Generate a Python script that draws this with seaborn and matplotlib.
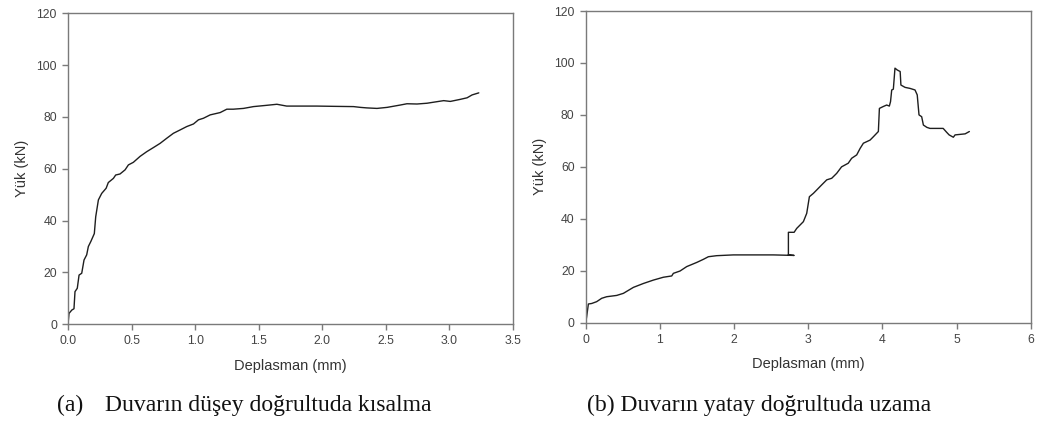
import matplotlib
matplotlib.use("Agg")
import matplotlib.pyplot as plt
import seaborn as sns
import pandas as pd

# ---- data: panel (a) vertical shortening ----
disp_a = [0.0, 0.008, 0.03, 0.047, 0.055, 0.073, 0.087, 0.108, 0.126, 0.147, 0.16, 0.18,
          0.207, 0.218, 0.239, 0.265, 0.3, 0.317, 0.357, 0.375, 0.409, 0.449, 0.475, 0.514,
          0.567, 0.619, 0.672, 0.724, 0.777, 0.829, 0.882, 0.934, 0.987, 1.026, 1.065, 1.118,
          1.197, 1.249, 1.30, 1.38, 1.459, 1.564, 1.643, 1.72, 1.826, 1.957, 2.09, 2.246,
          2.3, 2.35, 2.43, 2.51, 2.613, 2.666, 2.745, 2.824, 2.876, 2.955, 3.007, 3.086,
          3.139, 3.178, 3.231]
load_a = [0.0, 4.2, 5.5, 6.0, 12.6, 13.9, 19.0, 19.7, 24.8, 26.8, 30.0, 32.0,
          35.0, 41.5, 48.0, 50.5, 52.5, 54.7, 56.3, 57.6, 58.0, 59.6, 61.5, 62.5,
          64.8, 66.6, 68.2, 69.8, 71.8, 73.7, 75.0, 76.3, 77.3, 78.9, 79.5, 80.8,
          81.7, 83.0, 83.0, 83.3, 84.0, 84.5, 84.9, 84.2, 84.2, 84.2, 84.1, 84.0,
          83.7, 83.5, 83.3, 83.7, 84.6, 85.1, 85.0, 85.3, 85.7, 86.3, 86.0, 86.8,
          87.4, 88.5, 89.3]

# ---- data: panel (b) horizontal elongation ----
disp_b = [0.0, 0.013, 0.036, 0.081, 0.148, 0.216, 0.283, 0.418, 0.508, 0.643, 0.778, 0.912,
          1.047, 1.16, 1.182, 1.272, 1.362, 1.497, 1.587, 1.654, 1.766, 1.99, 2.26, 2.53,
          2.81, 2.733, 2.733, 2.81, 2.845, 2.89, 2.935, 2.98, 3.016, 3.07, 3.115, 3.18,
          3.25, 3.317, 3.384, 3.45, 3.54, 3.586, 3.654, 3.7, 3.744, 3.834, 3.879, 3.946,
          3.96, 4.01, 4.058, 4.094, 4.11, 4.126, 4.148, 4.17, 4.2, 4.24, 4.25, 4.306,
          4.373, 4.44, 4.47, 4.494, 4.53, 4.553, 4.6, 4.642, 4.82, 4.867, 4.9, 4.957,
          4.98, 5.048, 5.116, 5.173]
load_b = [0.0, 2.3, 7.2, 7.4, 8.1, 9.4, 10.0, 10.5, 11.3, 13.6, 15.1, 16.4,
          17.5, 18.0, 19.0, 19.9, 21.6, 23.2, 24.4, 25.4, 25.8, 26.1, 26.1, 26.1,
          25.9, 26.1, 34.8, 34.8, 36.3, 37.6, 38.9, 42.1, 48.5, 49.8, 51.1, 53.0,
          55.0, 55.6, 57.5, 60.0, 61.4, 63.3, 64.6, 67.1, 69.1, 70.3, 71.6, 73.6,
          82.5, 83.2, 83.8, 83.4, 85.1, 89.6, 89.9, 98.0, 97.3, 96.7, 91.5, 90.6,
          90.2, 89.6, 87.7, 80.0, 79.3, 76.1, 75.2, 74.8, 74.8, 73.3, 72.3, 71.4,
          72.3, 72.5, 72.7, 73.6]

xticks_a = [0.0, 0.5, 1.0, 1.5, 2.0, 2.5, 3.0, 3.5]
xticks_b = [0, 1, 2, 3, 4, 5, 6]
yticks = [0, 20, 40, 60, 80, 100, 120]
xlabel = "Deplasman (mm)"
ylabel = "Yük (kN)"
caption_a_tag = "(a)"
caption_a = "Duvarın düşey doğrultuda kısalma"
caption_b = "(b) Duvarın yatay doğrultuda uzama"

sns.set_style("ticks")
plt.rcParams['font.family'] = ['Liberation Sans', 'DejaVu Sans']

W, H = 1039, 428
fig = plt.figure(figsize=(W / 100, H / 100), dpi=100)
ax1 = fig.add_axes([68 / W, 1 - 324.3 / H, 445 / W, 311 / H])
ax2 = fig.add_axes([585.7 / W, 1 - 322.7 / H, 445 / W, 311.7 / H])

df_a = pd.DataFrame({"x": disp_a, "y": load_a})
df_b = pd.DataFrame({"x": disp_b, "y": load_b})

line_color = "#1e1e1e"
sns.lineplot(data=df_a, x="x", y="y", ax=ax1, sort=False, estimator=None,
             color=line_color, linewidth=1.0)
sns.lineplot(data=df_b, x="x", y="y", ax=ax2, sort=False, estimator=None,
             color=line_color, linewidth=1.0)

spine_color = "#7a7a7a"
for ax, xt, xlim, fmt in [(ax1, xticks_a, (0, 3.5), "{:.1f}"), (ax2, xticks_b, (0, 6), "{:d}")]:
    ax.set_xlim(*xlim)
    ax.set_ylim(0, 120)
    ax.set_xticks(xt)
    ax.set_xticklabels([fmt.format(v) for v in xt])
    ax.set_yticks(yticks)
    ax.set_yticklabels([str(v) for v in yticks])
    ax.set_xlabel(xlabel, fontsize=10.5, color="#333333", labelpad=8)
    ax.set_ylabel(ylabel, fontsize=10.5, color="#333333", labelpad=5)
    for s in ax.spines.values():
        s.set_visible(True)
        s.set_color(spine_color)
        s.set_linewidth(1.0)
    ax.tick_params(axis="both", direction="out", length=4, width=1.0, color=spine_color,
                   labelsize=8.8, labelcolor="#444444", pad=4)

fig.text(57 / W, 1 - 405 / H, caption_a_tag, family=['Liberation Serif'], fontsize=17,
         va="center", ha="left", color="#111111")
fig.text(105 / W, 1 - 405 / H, caption_a, family=['Liberation Serif'], fontsize=17,
         va="center", ha="left", color="#111111")
fig.text(587 / W, 1 - 405 / H, caption_b, family=['Liberation Serif'], fontsize=17,
         va="center", ha="left", color="#111111")

fig.savefig("out.png", dpi=100)
